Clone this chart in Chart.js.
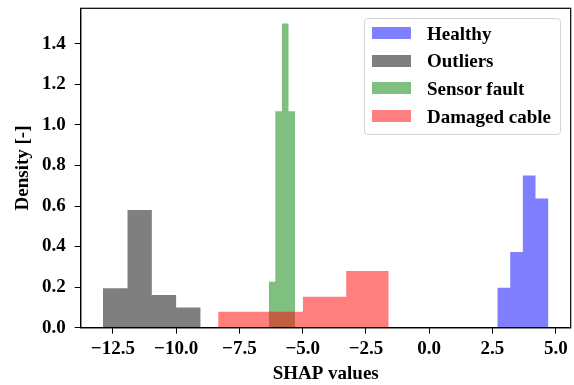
<!DOCTYPE html>
<html>
<head>
<meta charset="utf-8">
<title>SHAP values density</title>
<script src="https://cdn.jsdelivr.net/npm/chart.js@4.4.1/dist/chart.umd.min.js"></script>
<style>
  html, body { margin: 0; padding: 0; background: #fff; }
  .wrap { position: relative; width: 574px; height: 385px; }
  .legend {
    position: absolute; left: 364px; top: 18px; width: 197px; height: 117px;
    box-sizing: border-box; border: 1px solid #d4d4d4; border-radius: 4px;
    background: rgba(255, 255, 255, 0.8); padding-top: 0.5px;
    font: bold 19px 'Liberation Serif', 'Times New Roman', serif; color: #000;
  }
  .legend-row { height: 27.6px; display: flex; align-items: center; }
  .legend-swatch { width: 39px; height: 12px; margin-left: 7px; margin-right: 16px; }
  .legend-text { line-height: 1; }
</style>
</head>
<body>
<div class="wrap">
  <canvas id="hist" width="574" height="385"></canvas>
  <div id="legend" class="legend"></div>
</div>
<script>
// histogram bins: edges (n+1) and density values (n) per class
const SERIES = ['Healthy', 'Outliers', 'Sensor fault', 'Damaged cable'];
const COLORS = ['rgba(0,0,255,0.5)', 'rgba(0,0,0,0.5)', 'rgba(0,128,0,0.5)', 'rgba(255,0,0,0.5)'];

const healthyEdges = [2.69, 3.20, 3.70, 4.20, 4.71];
const healthyDensity = [0.197, 0.373, 0.751, 0.637];

const outliersEdges = [-12.89, -11.92, -10.96, -10.0, -9.03];
const outliersDensity = [0.194, 0.58, 0.161, 0.099];

const sensorEdges = [-6.34, -6.08, -5.82, -5.56, -5.30];
const sensorDensity = [0.227, 1.067, 1.50, 1.067];

const damagedEdges = [-8.34, -6.66, -4.99, -3.28, -1.60];
const damagedDensity = [0.079, 0.079, 0.153, 0.279];

const X_TICK_STEP = 2.5;
const Y_TICK_STEP = 0.2;

// x range padded by 5% like the usual histogram autoscale
const allEdges = [].concat(healthyEdges, outliersEdges, sensorEdges, damagedEdges);
const xLo = Math.min(...allEdges);
const xHi = Math.max(...allEdges);
const xPad = (xHi - xLo) * 0.05;
const yMax = Math.max(...healthyDensity, ...outliersDensity, ...sensorDensity, ...damagedDensity) * 1.05;

// turns bin edges + heights into points for a stepped, filled line
function stepPoints(edges, dens) {
  const pts = [{ x: edges[0], y: 0 }];
  dens.forEach((d, i) => pts.push({ x: edges[i], y: d }));
  pts.push({ x: edges[edges.length - 1], y: 0 });
  return pts;
}

function fmt(v) {
  return v.toFixed(1).replace('-', '\u2212');
}

const FONT = { family: "'Liberation Serif', 'Times New Roman', serif", size: 19, weight: 'bold' };

const bins = [
  [healthyEdges, healthyDensity],
  [outliersEdges, outliersDensity],
  [sensorEdges, sensorDensity],
  [damagedEdges, damagedDensity],
];

// frame around the plot area (all four sides)
const framePlugin = {
  id: 'frame',
  afterDatasetsDraw(chart) {
    const { ctx, chartArea: a } = chart;
    ctx.save();
    ctx.strokeStyle = '#000';
    ctx.lineWidth = 1.2;
    ctx.strokeRect(a.left, a.top, a.right - a.left, a.bottom - a.top);
    ctx.restore();
  },
};

new Chart(document.getElementById('hist'), {
  type: 'line',
  data: {
    datasets: bins.map(([edges, dens], i) => ({
      label: SERIES[i],
      data: stepPoints(edges, dens),
      stepped: 'before',
      fill: 'origin',
      backgroundColor: COLORS[i],
      borderColor: 'rgba(0,0,0,0)',
      borderWidth: 0,
      pointRadius: 0,
      order: bins.length - i, // later classes drawn on top
    })),
  },
  options: {
    responsive: false,
    animation: false,
    layout: { padding: { top: 8.3, right: 3.3, left: 0, bottom: 0 } },
    plugins: { legend: { display: false }, tooltip: { enabled: false } },
    scales: {
      x: {
        type: 'linear',
        min: xLo - xPad,
        max: xHi + xPad,
        afterFit(s) { s.height = 57.3; s.paddingLeft = 0; s.paddingRight = 0; },
        ticks: {
          stepSize: X_TICK_STEP, includeBounds: false, padding: 4,
          color: '#000', font: FONT, maxRotation: 0, callback: (v) => fmt(v),
        },
        grid: { drawOnChartArea: false, tickLength: 6, tickColor: '#000' },
        border: { color: '#000', width: 1.2 },
        title: { display: true, text: 'SHAP values', color: '#000', font: FONT, padding: { top: 0, bottom: 0 } },
      },
      y: {
        min: 0,
        max: yMax,
        afterFit(s) { s.width = 80.7; s.paddingTop = 0; s.paddingBottom = 0; },
        ticks: {
          stepSize: Y_TICK_STEP, includeBounds: false, padding: 9,
          color: '#000', font: FONT, callback: (v) => v.toFixed(1),
        },
        grid: { drawOnChartArea: false, tickLength: 6, tickColor: '#000' },
        border: { color: '#000', width: 1.2 },
        title: { display: true, text: 'Density [-]', color: '#000', font: FONT, padding: { top: 11.6, bottom: 0 } },
      },
    },
  },
  plugins: [framePlugin],
});

// legend box in the upper right corner of the plot
const legendEl = document.getElementById('legend');
legendEl.innerHTML = SERIES.map((name, i) => `
  <div class="legend-row">
    <span class="legend-swatch" style="background:${COLORS[i]}"></span>
    <span class="legend-text">${name}</span>
  </div>`).join('');
</script>
</body>
</html>
